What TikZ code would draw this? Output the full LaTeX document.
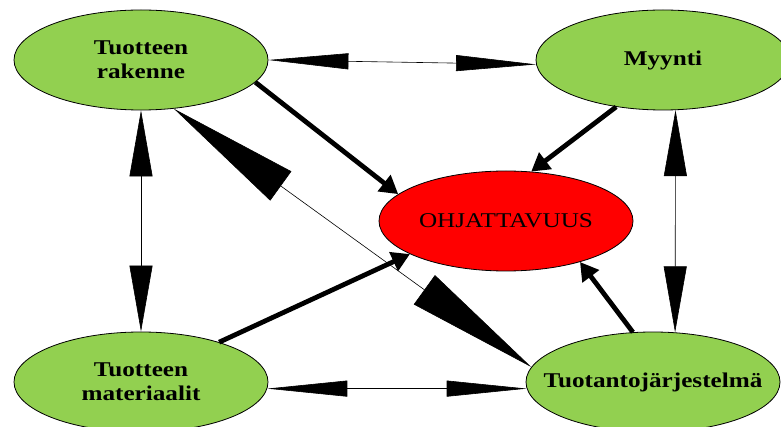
\documentclass[tikz,border=0pt]{standalone}
\usepackage{fontspec}
\newfontfamily\lblfont{Liberation Serif}[FakeStretch=1.2]
\usetikzlibrary{shapes.geometric,arrows.meta}
\definecolor{leaf}{HTML}{92D050}

\begin{document}
\begin{tikzpicture}[x=1pt,y=-1pt,
  topic/.style={ellipse, draw=black, line width=0.8pt, fill=leaf,
    minimum width=254pt, minimum height=100pt, inner sep=0pt},
  goal/.style={topic, fill=red},
  lbl/.style={font=\lblfont\fontsize{21}{24}\selectfont\bfseries, align=center, inner sep=0pt},
  goallbl/.style={font=\lblfont\fontsize{21}{24}\selectfont, align=center, inner sep=0pt},
  linkH/.style={line width=0.6pt,
    {Triangle[length=80pt,width=16pt]}-{Triangle[length=80pt,width=16pt]}},
  linkV/.style={line width=0.6pt,
    {Triangle[length=66pt,width=23pt]}-{Triangle[length=66pt,width=23pt]}},
  linkD/.style={line width=0.6pt,
    {Triangle[length=132pt,width=36pt]}-{Triangle[length=132pt,width=36pt]}},
  push/.style={line width=4.8pt, -{Triangle[length=18pt,width=20pt]}}
]
\useasboundingbox (0,0) rectangle (781,427);
\clip (0,0) rectangle (781,427);

% factors
\node[topic] (rak) at (141,60)  {};
\node[lbl] (rakt) at (rak.center) {Tuotteen\\rakenne};
\node[topic] (myy) at (663,60)  {};
\node[lbl] (myyt) at (myy.center) {Myynti};
\node[topic] (mat) at (141,382) {};
\node[lbl] (matt) at (mat.center) {Tuotteen\\materiaalit};
\node[topic] (tuo) at (653,382) {};
\node[lbl] (tuot) at (tuo.center) {Tuotantojärjestelmä};

% outcome
\node[goal] (ohj) at (506,221) {};
\node[goallbl] (ohjt) at (ohj.center) {OHJATTAVUUS};

% two-way relations
\draw[linkH] (rak.east) -- (myy.-178.6);
\draw[linkH] (mat.-3) -- (tuo.-177);
\draw[linkV] (rak.south) -- (mat.north);
\draw[linkV] (myy.-76.5) -- (tuo.66.3);
\draw[linkD] (rak.-56.3) -- (tuo.173.2);

% influences on the outcome
\draw[push] (rak.-11.4) -- (ohj.166.1);
\draw[push] (myy.-135) -- (ohj.63.4);
\draw[push] (mat.27.8) -- (ohj.-161.6);
\draw[push] (tuo.112.8) -- (ohj.-29.7);
\end{tikzpicture}
\end{document}
